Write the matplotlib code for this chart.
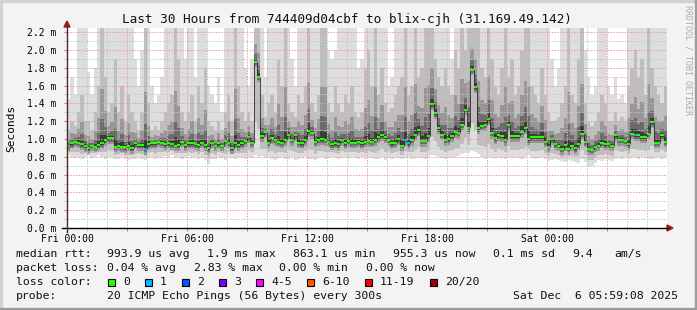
import numpy as np
import matplotlib
matplotlib.use("Agg")
import matplotlib.pyplot as plt
from matplotlib.patches import Rectangle, Polygon
from matplotlib.lines import Line2D

# ---------------- data (10-minute columns, values in ms) ----------------
STEP_H = 1.0 / 6.0  # hours per column

median_ms = [
    0.925, 0.95, 0.97, 0.96, 0.94, 0.92, 0.90, 0.925, 0.915, 0.93,
    0.95, 0.99, 1.01, 1.01, 0.915, 0.925, 0.915, 0.91, 0.925, 0.90,
    0.95, 0.93, 0.93, 0.89, 0.94, 0.95, 0.95, 0.97, 0.96, 0.94,
    0.95, 0.94, 0.925, 0.93, 0.97, 0.93, 0.95, 0.95, 0.94, 0.93,
    0.96, 0.93, 0.895, 0.96, 0.925, 0.95, 0.925, 0.98, 0.96, 0.90,
    0.95, 0.93, 0.95, 0.98, 1.02, 0.96, 1.87, 1.70, 1.03, 1.08,
    0.96, 1.01, 0.99, 0.97, 0.96, 0.99, 1.05, 0.99, 1.04, 0.96,
    0.95, 0.99, 1.09, 1.07, 0.97, 0.99, 1.00, 0.99, 0.97, 0.94,
    0.95, 0.94, 0.99, 0.95, 0.98, 0.96, 0.96, 0.97, 0.95, 0.97,
    0.98, 0.97, 0.99, 1.02, 1.04, 1.02, 0.99, 0.95, 0.96, 1.00,
    0.925, 0.99, 0.95, 0.99, 1.05, 1.10, 0.98, 0.98, 1.03, 1.39,
    1.29, 1.12, 1.05, 0.99, 1.00, 1.03, 1.08, 1.07, 1.16, 1.33,
    1.12, 1.78, 1.58, 1.12, 1.15, 1.16, 1.22, 1.07, 1.01, 1.04,
    1.03, 0.99, 1.16, 1.03, 1.03, 1.03, 1.08, 1.12, 1.00, 1.02,
    1.02, 1.02, 1.02, 0.97, 0.915, 1.00, 0.94, 0.925, 0.89, 0.93,
    0.89, 0.925, 0.895, 0.94, 1.06, 0.97, 0.89, 0.88, 0.915, 0.925,
    0.96, 0.94, 0.94, 0.925, 1.04, 0.99, 0.99, 0.98, 0.94, 1.06,
    1.04, 1.04, 1.02, 1.02, 1.06, 1.19, 0.96, 0.96, 1.04, 0.97,
]

# highest ping per column (2.3 = beyond top of graph)
smoke_hi = [
    1.45, 1.7, 1.5, 2.3, 2.3, 2.3, 1.75, 1.5, 1.8, 2.3,
    2.3, 2.3, 2.3, 2.3, 2.3, 2.3, 2.3, 2.3, 2.3, 2.3,
    1.9, 1.6, 2.0, 2.3, 2.3, 1.6, 1.4, 1.5, 1.7, 2.3,
    2.3, 2.3, 2.3, 2.3, 2.3, 1.9, 2.3, 2.3, 1.7, 2.3,
    2.3, 2.3, 1.6, 1.5, 1.4, 1.7, 1.3, 2.3, 2.3, 2.3,
    2.3, 2.3, 2.3, 1.8, 1.6, 1.9, 2.3, 2.3, 2.3, 1.7,
    2.3, 2.3, 2.3, 2.3, 2.3, 2.3, 2.3, 1.9, 1.6, 2.3,
    2.3, 2.3, 2.3, 2.3, 2.3, 2.3, 2.3, 2.3, 2.0, 1.9,
    2.0, 2.3, 2.3, 2.3, 2.3, 2.3, 2.3, 1.8, 1.9, 2.3,
    2.3, 2.3, 2.3, 2.3, 2.3, 2.3, 1.6, 1.7, 2.3, 2.3,
    2.3, 2.3, 2.3, 2.3, 2.3, 2.3, 2.3, 2.3, 2.3, 2.3,
    2.3, 2.3, 2.3, 2.3, 2.3, 1.9, 2.3, 2.3, 2.3, 2.3,
    2.3, 2.3, 2.3, 2.3, 2.3, 2.3, 2.3, 2.3, 2.3, 2.3,
    2.3, 2.3, 2.3, 2.3, 2.3, 2.3, 2.3, 2.3, 2.3, 2.3,
    2.3, 2.3, 2.3, 2.3, 2.3, 1.9, 1.6, 1.8, 2.3, 2.3,
    2.3, 2.3, 2.3, 2.3, 2.3, 2.0, 1.7, 1.5, 1.6, 2.3,
    2.3, 2.3, 1.6, 1.5, 1.7, 1.45, 1.5, 1.4, 2.3, 2.3,
    2.3, 2.3, 2.3, 2.3, 2.3, 2.3, 2.3, 2.3, 2.3, 2.3,
]

# upper edge of the denser (medium grey) part of the smoke
smoke_up = [
    1.1, 1.2, 1.15, 1.3, 1.5, 1.2, 1.2, 1.1, 1.3, 1.6,
    2.3, 1.7, 1.3, 1.4, 1.9, 1.3, 1.6, 1.2, 1.5, 1.3,
    1.2, 1.1, 1.3, 2.3, 1.4, 1.1, 1.15, 1.1, 1.2, 1.3,
    1.4, 1.5, 2.3, 1.9, 1.3, 1.2, 1.3, 1.5, 1.2, 1.6,
    1.4, 1.8, 1.2, 1.15, 1.1, 1.2, 1.1, 1.3, 1.5, 1.2,
    2.3, 1.6, 1.3, 1.2, 1.3, 1.2, 2.3, 2.3, 1.5, 1.25,
    1.4, 1.5, 1.3, 1.9, 1.6, 2.3, 1.4, 1.3, 1.25, 1.5,
    1.4, 1.6, 2.3, 1.4, 1.3, 1.5, 2.3, 2.3, 1.4, 1.3,
    1.6, 1.4, 1.3, 1.5, 1.4, 1.6, 1.3, 1.25, 1.3, 1.8,
    2.0, 1.6, 2.3, 1.5, 1.8, 1.4, 1.3, 1.35, 1.5, 1.6,
    1.7, 2.3, 1.5, 1.6, 2.3, 1.7, 1.8, 2.3, 2.3, 2.3,
    1.9, 1.7, 1.6, 1.8, 1.6, 1.5, 2.0, 1.8, 2.3, 2.0,
    2.3, 2.3, 2.3, 2.3, 1.8, 1.7, 2.3, 1.9, 1.6, 1.5,
    1.8, 2.3, 1.7, 1.9, 1.5, 1.6, 2.0, 2.3, 2.3, 1.6,
    1.5, 1.4, 1.8, 1.5, 1.3, 1.2, 1.2, 1.25, 1.4, 1.6,
    2.3, 1.5, 1.4, 1.9, 2.3, 1.4, 1.2, 1.15, 1.2, 1.3,
    1.5, 1.4, 1.2, 1.2, 1.3, 1.2, 1.25, 1.2, 1.6, 1.8,
    2.0, 1.7, 1.9, 1.5, 2.3, 1.8, 1.6, 1.5, 1.4, 1.6,
]

# lowest ping per column
smoke_lo = [
    0.82, 0.80, 0.79, 0.80, 0.78, 0.80, 0.81, 0.79, 0.80, 0.82,
    0.80, 0.78, 0.80, 0.79, 0.77, 0.78, 0.80, 0.78, 0.76, 0.78,
    0.77, 0.80, 0.78, 0.76, 0.79, 0.80, 0.77, 0.79, 0.80, 0.81,
    0.80, 0.82, 0.79, 0.80, 0.78, 0.80, 0.81, 0.79, 0.80, 0.78,
    0.79, 0.76, 0.72, 0.78, 0.77, 0.80, 0.79, 0.76, 0.80, 0.79,
    0.78, 0.80, 0.79, 0.77, 0.80, 0.79, 0.82, 0.80, 0.81, 0.79,
    0.80, 0.78, 0.76, 0.79, 0.80, 0.77, 0.78, 0.80, 0.76, 0.78,
    0.79, 0.80, 0.78, 0.77, 0.76, 0.79, 0.80, 0.78, 0.79, 0.80,
    0.79, 0.77, 0.79, 0.80, 0.78, 0.80, 0.79, 0.77, 0.80, 0.78,
    0.80, 0.79, 0.77, 0.78, 0.80, 0.76, 0.79, 0.78, 0.80, 0.79,
    0.77, 0.79, 0.80, 0.78, 0.79, 0.80, 0.79, 0.78, 0.80, 0.82,
    0.81, 0.80, 0.79, 0.78, 0.80, 0.79, 0.80, 0.81, 0.83, 0.84,
    0.84, 0.86, 0.85, 0.83, 0.80, 0.78, 0.80, 0.79, 0.77, 0.80,
    0.79, 0.78, 0.80, 0.79, 0.80, 0.79, 0.78, 0.80, 0.82, 0.79,
    0.78, 0.79, 0.80, 0.77, 0.75, 0.76, 0.78, 0.76, 0.75, 0.74,
    0.76, 0.75, 0.74, 0.73, 0.78, 0.74, 0.69, 0.70, 0.73, 0.76,
    0.75, 0.77, 0.76, 0.75, 0.78, 0.79, 0.78, 0.80, 0.78, 0.79,
    0.80, 0.78, 0.80, 0.79, 0.78, 0.77, 0.79, 0.80, 0.78, 0.79,
]

loss_one_cols = [23, 101, 102, 170]   # columns with 1/20 packets lost

x_tick_hours = [0, 6, 12, 18, 24]
x_tick_labels = ["Fri 00:00", "Fri 06:00", "Fri 12:00", "Fri 18:00", "Sat 00:00"]
y_ticks = [0.0, 0.2, 0.4, 0.6, 0.8, 1.0, 1.2, 1.4, 1.6, 1.8, 2.0, 2.2]

title = "Last 30 Hours from 744409d04cbf to blix-cjh (31.169.49.142)"
legend_rows = [
    [(16, "median rtt:"), (107, "993.9 us avg"), (207, "1.9 ms max"), (293, "863.1 us min"),
     (393, "955.3 us now"), (493, "0.1 ms sd"), (572, "9.4"), (614, "am/s")],
    [(16, "packet loss:"), (107, "0.04 % avg"), (194, "2.83 % max"), (279, "0.00 % min"),
     (366, "0.00 % now")],
    [(16, "loss color:")],
    [(16, "probe:"), (107, "20 ICMP Echo Pings (56 Bytes) every 300s"),
     (513, "Sat Dec  6 05:59:08 2025")],
]
loss_labels = ["0", "1", "2", "3", "4-5", "6-10", "11-19", "20/20"]
loss_colors = ["#26ff00", "#00b8ff", "#0059ff", "#7e00ff", "#ff00ff", "#ff5500", "#ff0000", "#a10000"]
loss_box_x = [108, 145, 182, 219, 256, 307, 365, 430]

# ---------------- figure ----------------
W, H = 697, 310
MONO = "DejaVu Sans Mono"
fig = plt.figure(figsize=(W / 100, H / 100), dpi=100, facecolor="#f3f3f3")


def fx(px):
    return px / W


def fy(py):
    return 1 - py / H


# frame
fig.patches.append(Rectangle((0, fy(2)), 1, 2 / H, transform=fig.transFigure, color="#d2d2d2", zorder=0))
fig.patches.append(Rectangle((0, 0), 2 / W, 1, transform=fig.transFigure, color="#d2d2d2", zorder=0))
fig.patches.append(Rectangle((0, 0), 1, 2.5 / H, transform=fig.transFigure, color="#9c9c9c", zorder=0))
fig.patches.append(Rectangle((fx(695), 0), 2 / W, 1, transform=fig.transFigure, color="#9c9c9c", zorder=0))

YMAX = 200 / 89.0
ax = fig.add_axes([fx(67), fy(228), (667 - 67) / W, 200 / H])
ax.set_facecolor("white")
ax.set_xlim(0, 30)
ax.set_ylim(0, YMAX)
for s in ax.spines.values():
    s.set_visible(False)

med = np.array(median_ms)
lo = np.array(smoke_lo)
hi = np.array(smoke_hi)
up = np.array(smoke_up)
n = len(med)
t = np.arange(n) * STEP_H

# smoke layers, light to dark
layers = [
    (lo, hi, "#dddddd"),
    (lo + 0.35 * (med - lo), up, "#bebebe"),
    (med - 0.065, med + 0.45 * (up - med), "#979797"),
    (med - 0.04, med + 0.2 * (up - med), "#6c6c6c"),
    (med - 0.018, med + 0.07 * (up - med), "#3c3c3c"),
]
for bot, top, col in layers:
    ax.bar(t, top - bot, bottom=bot, width=STEP_H, align="edge", color=col,
           linewidth=0, antialiased=False, zorder=1)

# grid
ax.set_axisbelow(False)
ax.set_xticks(np.arange(0, 30, 3))
ax.set_xticks(np.arange(0, 30, 1), minor=True)
ax.set_yticks(y_ticks)
ax.set_yticks(np.arange(0.1, 2.25, 0.2), minor=True)
ax.grid(which="minor", color="#c4c4c4", linestyle=(0, (1.4, 1.4)), linewidth=0.72)
ax.grid(which="major", color="#ec9c9c", linestyle=(0, (1.4, 1.4)), linewidth=0.72)
labels = []
for h in np.arange(0, 30, 3):
    labels.append(x_tick_labels[x_tick_hours.index(h)] if h in x_tick_hours else "")
ax.set_xticklabels(labels, fontfamily=MONO, fontsize=7)
ax.set_yticklabels([f"{v:.1f} m" for v in y_ticks], fontfamily=MONO, fontsize=7)
ax.tick_params(axis="x", which="major", length=2.5, color="#e07070", pad=1.5)
ax.tick_params(axis="x", which="minor", length=2, color="#c0c0c0")
ax.tick_params(axis="y", which="major", length=2.5, color="#e07070", pad=5)
ax.tick_params(axis="y", which="minor", length=2, color="#c0c0c0")

# median: dark connectors + coloured 2px bars
ax.vlines(t[1:], med[:-1], med[1:], colors="#2a2a2a", linewidth=0.6, zorder=3)
loss = np.zeros(n, dtype=int)
loss[loss_one_cols] = 1
line_cols = [loss_colors[k] for k in loss]
ax.hlines(med, t, t + STEP_H, colors=line_cols, linewidth=1.5, zorder=4)

# axes lines & arrows
fig.add_artist(Line2D([fx(62), fx(668)], [fy(228), fy(228)], color="black", linewidth=1.0))
fig.add_artist(Line2D([fx(67), fx(67)], [fy(232), fy(26)], color="#4a2a2a", linewidth=1.0))
fig.patches.append(Polygon([(fx(667), fy(225)), (fx(673), fy(228)), (fx(667), fy(231))],
                           closed=True, transform=fig.transFigure, color="#9a1c1c"))
fig.patches.append(Polygon([(fx(64), fy(27)), (fx(67), fy(21)), (fx(70), fy(27))],
                           closed=True, transform=fig.transFigure, color="#9a1c1c"))

# texts
fig.text(fx(347), fy(19), title, fontfamily=MONO, fontsize=9.2, ha="center", va="center", color="#111111")
fig.text(fx(11), fy(128), "Seconds", fontfamily=MONO, fontsize=8, rotation=90, ha="center", va="center")
fig.text(fx(688), fy(5), "RRDTOOL / TOBI OETIKER", fontfamily=MONO, fontsize=6, rotation=270,
         ha="center", va="top", color="#ababab")

row_y = [254, 268, 282, 296]
for ry, row in zip(row_y, legend_rows):
    for px, s in row:
        fig.text(fx(px), fy(ry), s, fontfamily=MONO, fontsize=8.25, ha="left", va="center", color="#111111")

for bx, lab, col in zip(loss_box_x, loss_labels, loss_colors):
    fig.patches.append(Rectangle((fx(bx), fy(286)), 7 / W, 7 / H, transform=fig.transFigure,
                                 facecolor=col, edgecolor="black", linewidth=0.8))
    fig.text(fx(bx + 15), fy(282), lab, fontfamily=MONO, fontsize=8.25, ha="left", va="center", color="#111111")

fig.savefig("out.png", dpi=100, facecolor=fig.get_facecolor())
